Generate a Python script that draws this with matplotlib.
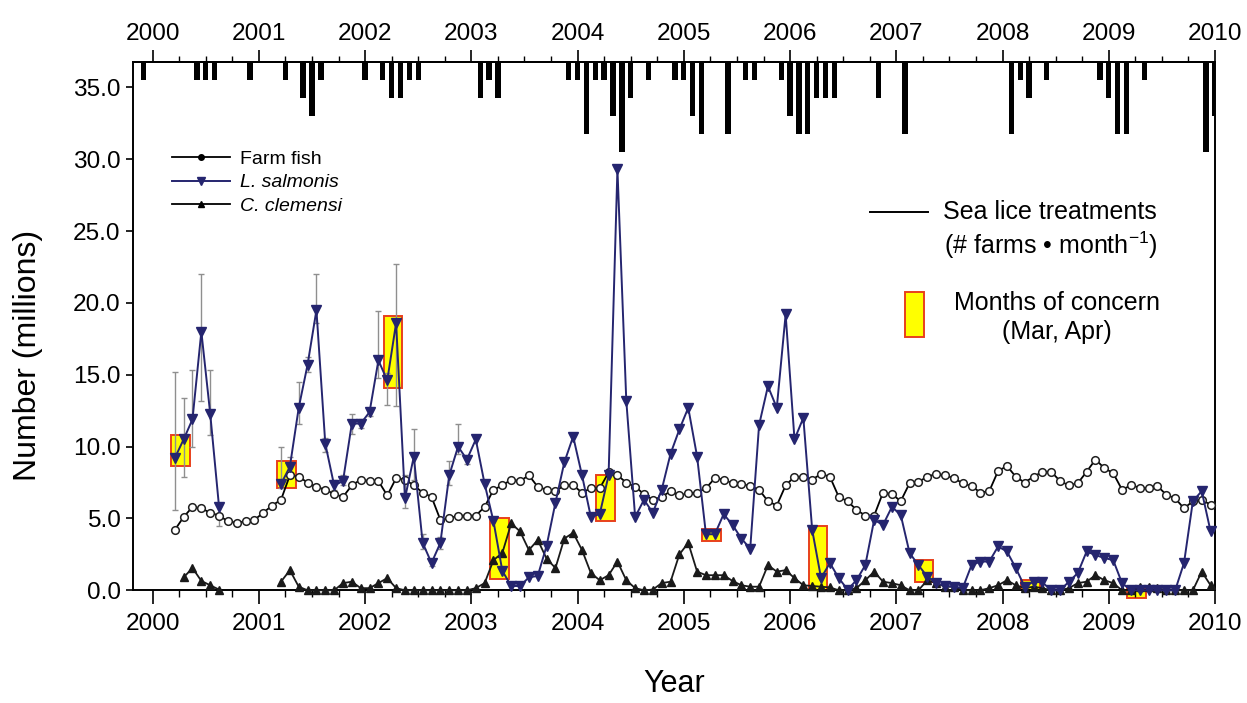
import numpy as np
import matplotlib
matplotlib.use("Agg")
import matplotlib.pyplot as plt
from matplotlib.lines import Line2D
from matplotlib.patches import Rectangle
from matplotlib.ticker import MultipleLocator, FormatStrFormatter

plt.rcParams["font.family"] = ["Liberation Sans", "DejaVu Sans"]
plt.rcParams["mathtext.fontset"] = "custom"
plt.rcParams["mathtext.rm"] = "Liberation Sans"

nan = np.nan

# monthly values, Jan 2000 .. Dec 2009 (millions)
farm_fish = [
    nan, nan, 4.2, 5.1, 5.8, 5.7, 5.4, 5.2, 4.8, 4.7, 4.8, 4.9,
    5.4, 5.9, 6.3, 8.0, 7.9, 7.5, 7.2, 7.0, 6.7, 6.5, 7.3, 7.7,
    7.6, 7.6, 6.6, 7.8, 7.7, 7.3, 6.8, 6.5, 4.9, 5.0, 5.2, 5.2,
    5.2, 5.8, 7.0, 7.3, 7.7, 7.6, 8.0, 7.2, 7.0, 6.9, 7.3, 7.3,
    6.8, 7.1, 7.1, 8.2, 8.0, 7.5, 7.2, 6.7, 6.3, 6.5, 6.9, 6.6,
    6.75, 6.8, 7.1, 7.8, 7.7, 7.45, 7.4, 7.25, 7.0, 6.2, 5.9, 7.3,
    7.9, 7.9, 7.7, 8.1, 7.9, 6.5, 6.2, 5.6, 5.2, 5.2, 6.8, 6.7,
    6.2, 7.45, 7.55, 7.9, 8.1, 8.0, 7.8, 7.45, 7.25, 6.8, 6.9, 8.3,
    8.65, 7.9, 7.5, 7.9, 8.25, 8.25, 7.6, 7.3, 7.45, 8.25, 9.1, 8.5,
    8.15, 7.0, 7.3, 7.15, 7.1, 7.25, 6.65, 6.4, 5.7, 6.2, 6.3, 5.95,
]
l_salmonis = [
    nan, nan, 9.2, 10.5, 11.9, 18.0, 12.3, 5.8, nan, nan, nan, nan,
    nan, nan, 7.4, 8.6, 12.7, 15.7, 19.5, 10.2, 7.3, 7.6, 11.6, 11.6,
    12.4, 16.0, 14.6, 18.6, 6.4, 9.3, 3.3, 1.9, 3.3, 8.0, 10.0, 9.1,
    10.5, 7.4, 4.8, 1.35, 0.3, 0.3, 0.9, 1.0, 3.1, 6.1, 8.9, 10.7,
    8.0, 5.1, 5.3, 8.0, 29.3, 13.2, 5.1, 6.3, 5.4, 7.0, 9.5, 11.2,
    12.7, 9.3, 3.9, 3.9, 5.3, 4.55, 3.6, 2.9, 11.5, 14.2, 12.7, 19.2,
    10.5, 12.0, 4.2, 0.85, 1.9, 0.85, 0.05, 0.7, 1.75, 4.9, 4.55, 5.8,
    5.25, 2.6, 1.75, 0.95, 0.5, 0.3, 0.25, 0.15, 1.75, 2.0, 2.0, 3.05,
    2.7, 1.55, 0.25, 0.6, 0.55, 0.0, 0.0, 0.6, 1.2, 2.7, 2.45, 2.25,
    2.1, 0.5, 0.0, 0.0, 0.0, 0.0, 0.0, 0.0, 1.9, 6.2, 6.9, 4.1,
]
c_clemensi = [
    nan, nan, nan, 0.9, 1.55, 0.65, 0.35, 0.05, nan, nan, nan, nan,
    nan, nan, 0.6, 1.4, 0.25, 0.0, 0.0, 0.0, 0.0, 0.5, 0.6, 0.15,
    0.15, 0.5, 0.85, 0.15, 0.0, 0.0, 0.0, 0.0, 0.0, 0.0, 0.0, 0.0,
    0.15, 0.5, 2.1, 2.6, 4.65, 4.1, 2.8, 3.5, 2.2, 1.55, 3.6, 4.0,
    2.8, 1.2, 0.7, 1.05, 2.0, 0.7, 0.15, 0.0, 0.05, 0.5, 0.6, 2.5,
    3.3, 1.3, 1.05, 1.05, 1.05, 0.65, 0.35, 0.25, 0.25, 1.75, 1.3, 1.4,
    0.85, 0.35, 0.3, 0.25, 0.2, 0.0, 0.0, 0.15, 0.7, 1.3, 0.6, 0.5,
    0.35, 0.0, 0.0, 0.7, 0.5, 0.25, 0.25, 0.0, 0.0, 0.0, 0.15, 0.35,
    0.7, 0.35, 0.15, 0.25, 0.15, 0.0, 0.0, 0.15, 0.5, 0.6, 1.05, 0.7,
    0.5, 0.0, 0.0, 0.25, 0.25, 0.15, 0.0, 0.0, 0.0, 0.0, 1.3, 0.35,
]

# error bars on L. salmonis (month index: low, high)
err_month = [2, 3, 4, 5, 6, 7, 14, 15, 16, 17, 18, 19, 20, 21, 22, 23,
             24, 25, 26, 27, 28, 29, 30, 31, 32, 33, 34, 35]
err_lo = [5.6, 7.9, 10.0, 13.2, 10.8, 4.5, 7.1, 8.0, 11.6, 15.2, 18.6, 9.6, 7.0, 7.3, 10.9, 11.3,
          12.1, 14.8, 12.9, 12.8, 5.7, 7.7, 2.9, 1.7, 2.9, 7.3, 9.5, 8.8]
err_hi = [15.2, 13.4, 15.3, 22.0, 15.3, 6.0, 10.0, 9.3, 14.5, 16.2, 22.0, 10.6, 7.7, 8.0, 12.3, 11.9,
          12.7, 19.4, 15.1, 22.7, 8.0, 11.2, 3.9, 2.2, 3.7, 9.0, 11.6, 9.4]

# months of concern (Mar, Apr) boxes
box_years = [2000, 2001, 2002, 2003, 2004, 2005, 2006, 2007, 2008, 2009]
box_lo = [8.65, 7.1, 14.1, 0.8, 4.8, 3.4, 0.02, 0.6, 0.0, -0.55]
box_hi = [10.8, 9.0, 19.1, 5.05, 8.05, 4.3, 4.5, 2.1, 0.75, 0.15]

# sea lice treatments: month (end of month, 0 = Jan 2000) and number of farms
treat_month = [-1, 5, 6, 7, 11, 15, 17, 18, 19, 24, 26, 27, 28, 29, 30, 37, 38, 39,
               47, 48, 49, 50, 51, 52, 53, 54, 56, 59, 60, 61, 62, 65, 67, 68,
               71, 72, 73, 74, 75, 76, 77, 82, 85, 97, 98, 99, 101,
               107, 108, 109, 110, 112, 119, 120]
treat_farms = [1, 1, 1, 1, 1, 1, 2, 3, 1, 1, 1, 2, 2, 1, 1, 2, 1, 2,
               1, 1, 4, 1, 1, 3, 5, 2, 1, 1, 1, 3, 4, 4, 1, 1,
               1, 3, 4, 4, 2, 2, 2, 2, 4, 4, 1, 2, 1,
               1, 2, 4, 4, 1, 5, 3]

years = list(range(2000, 2011))

W, H = 1247, 703
fig = plt.figure(figsize=(W / 100, H / 100), dpi=100)
ax = fig.add_axes([133 / W, 1 - 590.3 / H, (1215 - 133) / W, (590.3 - 62) / H])

x = 2000 + (np.arange(120) + 0.5) / 12
y_top = 36.76
navy = "#25256f"

# yellow boxes
for yr, lo, hi in zip(box_years, box_lo, box_hi):
    ax.add_patch(Rectangle((yr + 2.1 / 12, lo), 2.1 / 12, hi - lo, facecolor="#ffff00",
                           edgecolor="#e8401c", lw=1.4, zorder=1, clip_on=False))

# error bars
lsal = np.array(l_salmonis)
em = np.array(err_month)
ax.errorbar(x[em], lsal[em], yerr=[lsal[em] - np.array(err_lo), np.array(err_hi) - lsal[em]],
            fmt="none", ecolor="#8f8f8f", elinewidth=1.0, capsize=2.5, capthick=1.0, zorder=2)

ax.plot(x, farm_fish, color="black", lw=1.3, marker="o", ms=5.5, mfc="white", mec="#202020",
        mew=1.1, zorder=3, clip_on=False)
ax.plot(x, c_clemensi, color="#1a1a1a", lw=1.3, marker="^", ms=5.5, mfc="#1a1a1a", mec="#1a1a1a",
        zorder=3, clip_on=False)
ax.plot(x, lsal, color=navy, lw=1.4, marker="v", ms=6.5, mfc=navy, mec=navy, zorder=4, clip_on=False)

# treatment bars hanging from the top
ax.bar(2000 + np.array(treat_month) / 12, -1.25 * np.array(treat_farms), bottom=y_top,
       width=0.6 / 12, color="black", zorder=3)

ax.set_xlim(1999.815, 2010.0)
ax.set_ylim(0, y_top)

ax.set_xticks(years)
ax.xaxis.set_minor_locator(MultipleLocator(0.25))
ax.set_yticks(np.arange(0, 36, 5))
ax.yaxis.set_major_formatter(FormatStrFormatter("%.1f"))
ax.tick_params(axis="x", which="major", length=10, width=1.2, labelsize=17.6, pad=6)
ax.tick_params(axis="x", which="minor", length=5, width=1.0)
ax.tick_params(axis="y", which="major", length=5, width=1.2, labelsize=17.6, pad=4)
for s in ax.spines.values():
    s.set_linewidth(1.4)

top = ax.secondary_xaxis("top")
top.set_xticks(years)
top.xaxis.set_minor_locator(MultipleLocator(0.25))
top.tick_params(axis="x", which="major", length=8.5, width=1.2, labelsize=17.6, pad=4)
top.tick_params(axis="x", which="minor", length=4, width=1.0)
top.spines["top"].set_linewidth(1.4)

ax.set_xlabel("Year", fontsize=22, labelpad=25)
ax.set_ylabel("Number (millions)", fontsize=23)
ax.yaxis.set_label_coords(-0.083, 0.445)

handles = [
    Line2D([], [], color="black", lw=1.3, marker="o", ms=4, mfc="black"),
    Line2D([], [], color=navy, lw=1.4, marker="v", ms=5.5, mfc=navy, mec=navy),
    Line2D([], [], color="black", lw=1.3, marker="^", ms=5, mfc="black"),
]
leg = ax.legend(handles, ["Farm fish", "L. salmonis", "C. clemensi"], loc="upper left",
                bbox_to_anchor=(172 / W, 1 - 150 / H), bbox_transform=fig.transFigure,
                frameon=False, fontsize=14, handlelength=3.0, handletextpad=0.5,
                labelspacing=0.32, borderpad=0, borderaxespad=0)
for t in leg.get_texts()[1:]:
    t.set_style("italic")

# right-hand legend
fig.add_artist(Line2D([870 / W, 928 / W], [1 - 212 / H, 1 - 212 / H], color="black", lw=1.4))
fig.text(943 / W, 1 - 212 / H, "Sea lice treatments", fontsize=18, ha="left", va="center")
fig.text(1051 / W, 1 - 245 / H, "(# farms \u2022 month$^{-1}$)", fontsize=18, ha="center", va="center")
fig.add_artist(Rectangle((905 / W, 1 - 337 / H), 19 / W, 45 / H, facecolor="#ffff00",
                         edgecolor="#e8401c", lw=1.4, transform=fig.transFigure))
fig.text(1057 / W, 1 - 303 / H, "Months of concern", fontsize=18, ha="center", va="center")
fig.text(1057 / W, 1 - 332 / H, "(Mar, Apr)", fontsize=18, ha="center", va="center")

fig.savefig("out.png", dpi=100)
